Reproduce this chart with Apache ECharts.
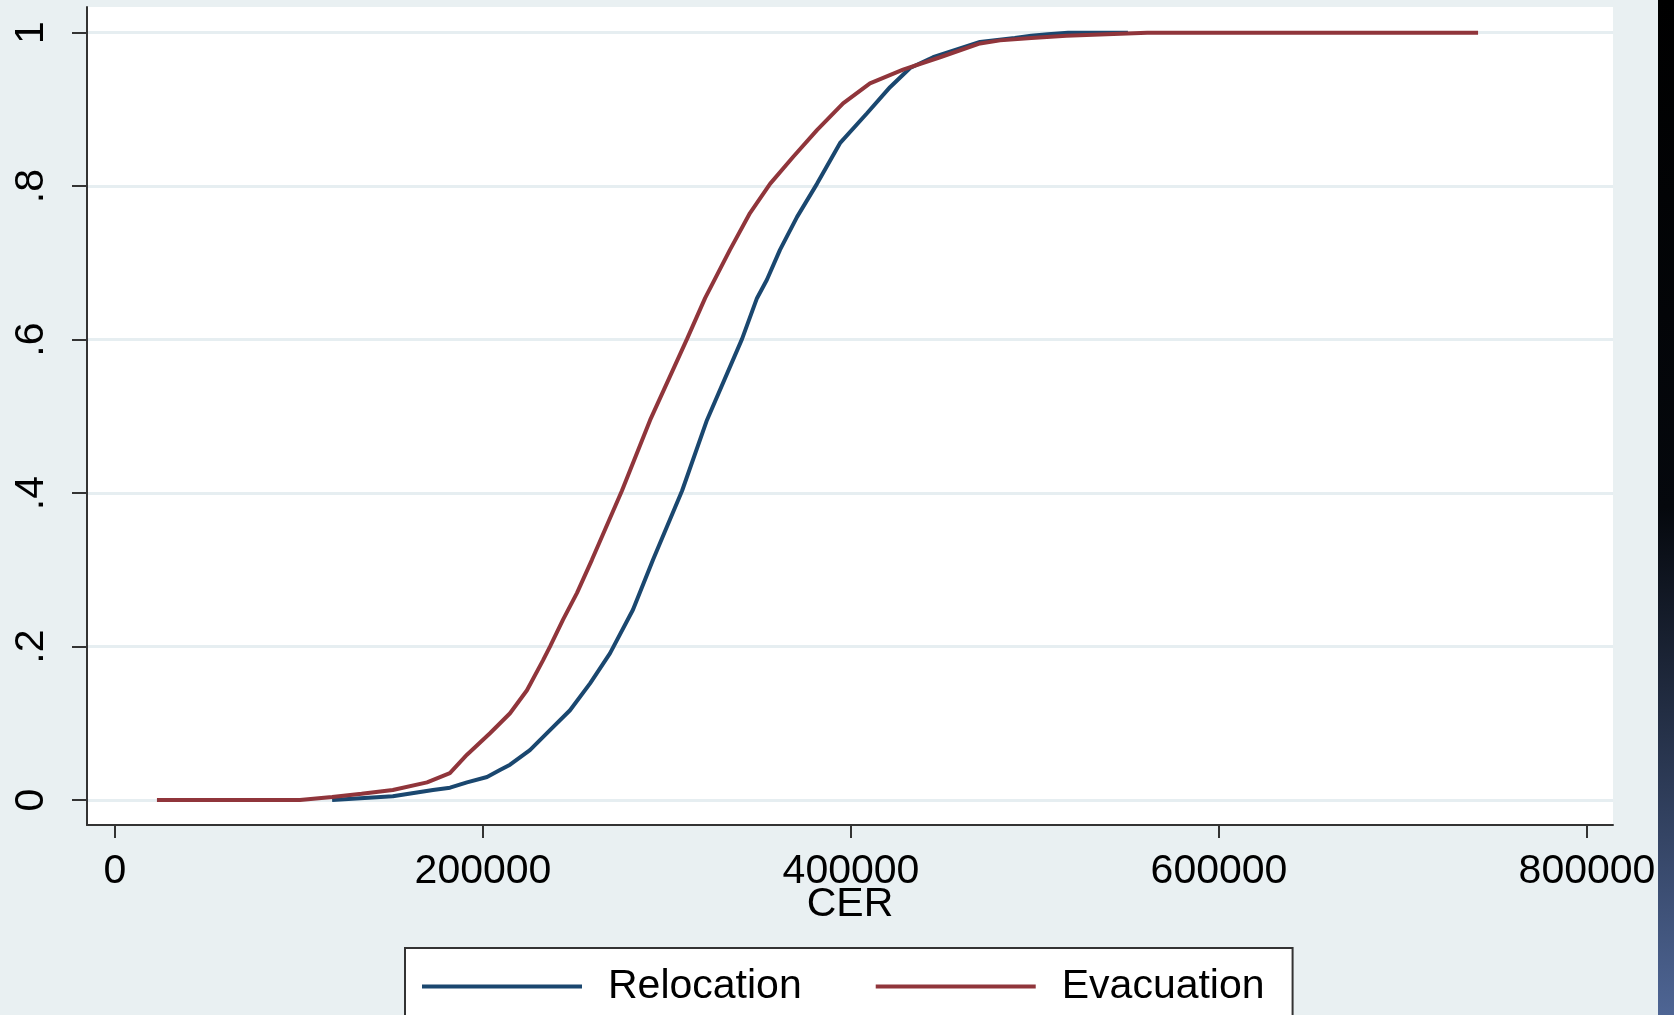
<!DOCTYPE html>
<html>
<head>
<meta charset="utf-8">
<script src="https://cdn.jsdelivr.net/npm/echarts@6/dist/echarts.min.js"></script>
<style>
    body { margin: 0; background: #e9f0f2; }
    #chart { width: 1674px; height: 1015px; }
</style>
</head>
<body>
<div id="chart"></div>
<script>
// cumulative distribution of CER
var relocationCER = [118000, 151000, 172800, 182100, 191300, 202200, 209200, 214700, 225500, 236400,
    247300, 258200, 269000, 281500, 292400, 308200, 321700, 340800, 348900, 354300, 361400, 370700,
    381500, 394000, 408700, 421200, 432100, 444600, 470100, 489000, 498000, 507000, 518000, 550500];
var relocationCum = [0, 0.005, 0.013, 0.016, 0.023, 0.030, 0.039, 0.046, 0.065, 0.091,
    0.117, 0.152, 0.191, 0.248, 0.313, 0.403, 0.495, 0.601, 0.654, 0.678, 0.717, 0.760,
    0.803, 0.856, 0.895, 0.929, 0.954, 0.968, 0.988, 0.993, 0.996, 0.998, 1, 1];

var evacuationCER = [22800, 100500, 118000, 134000, 151000, 169600, 182000, 191300, 203800, 214700,
    223900, 232600, 236400, 243500, 251100, 259200, 275500, 290800, 310900, 320700, 334200, 345100,
    356000, 368500, 381500, 395700, 410300, 428300, 448400, 470100, 481000, 498000, 517000, 561000, 740800];
var evacuationCum = [0, 0, 0.004, 0.008, 0.013, 0.023, 0.035, 0.059, 0.087, 0.113,
    0.143, 0.182, 0.2, 0.235, 0.27, 0.313, 0.403, 0.495, 0.601, 0.654, 0.717, 0.765,
    0.803, 0.838, 0.873, 0.908, 0.934, 0.952, 0.968, 0.986, 0.990, 0.993, 0.996, 1, 1];

var xTicks = [0, 200000, 400000, 600000, 800000];
var yTicks = [0, 0.2, 0.4, 0.6, 0.8, 1];

function pairs(xs, ys) {
    var out = [];
    for (var i = 0; i < xs.length; i++) {
        out.push([xs[i], ys[i]]);
    }
    return out;
}

var chart = echarts.init(document.getElementById('chart'));
var font = 'Liberation Sans, Arial, sans-serif';

chart.setOption({
    backgroundColor: '#e9f0f2',
    animation: false,
    textStyle: {fontFamily: font},
    grid: {left: 87, right: 61, top: 7, bottom: 190, show: true, backgroundColor: '#fff', borderWidth: 0},
    xAxis: {
        type: 'value',
        min: -15217,
        max: 814130,
        name: 'CER',
        nameLocation: 'middle',
        nameGap: 59,
        nameMoveOverlap: false,
        nameTextStyle: {fontSize: 41, color: '#000', fontFamily: font},
        axisLine: {show: true, onZero: false, lineStyle: {color: '#333', width: 2}},
        axisTick: {show: true, length: 13, lineStyle: {color: '#333', width: 2}, customValues: xTicks},
        axisLabel: {
            fontSize: 41, color: '#000', margin: 26, customValues: xTicks, fontFamily: font,
            formatter: function (v) { return String(v); }
        },
        splitLine: {show: false}
    },
    yAxis: {
        type: 'value',
        min: -0.0326,
        max: 1.0335,
        axisLine: {show: true, onZero: false, lineStyle: {color: '#333', width: 2}},
        axisTick: {show: true, length: 15, lineStyle: {color: '#333', width: 2}, customValues: yTicks},
        axisLabel: {
            fontSize: 41, color: '#000', margin: 35, rotate: 90, customValues: yTicks, fontFamily: font,
            formatter: function (v) {
                return v === 0 || v === 1 ? String(v) : String(v).replace(/^0/, '');
            }
        },
        splitLine: {show: true, lineStyle: {color: '#e6eef1', width: 3}}
    },
    legend: {
        left: 405,
        top: 948,
        padding: [18, 28, 40, 17],
        itemGap: 74,
        itemWidth: 160,
        itemHeight: 4,
        icon: 'rect',
        backgroundColor: '#fff',
        borderColor: '#333',
        borderWidth: 2,
        textStyle: {fontSize: 41, color: '#000', lineHeight: 40, padding: [0, 0, 0, 21], fontFamily: font},
        data: ['Relocation', 'Evacuation']
    },
    series: [
        {
            name: 'Relocation',
            type: 'line',
            symbol: 'none',
            color: '#1a476f',
            lineStyle: {width: 4},
            data: pairs(relocationCER, relocationCum)
        },
        {
            name: 'Evacuation',
            type: 'line',
            symbol: 'none',
            color: '#90353b',
            lineStyle: {width: 4},
            data: pairs(evacuationCER, evacuationCum)
        }
    ],
    graphic: [{
        type: 'rect',
        left: 1658,
        top: 0,
        shape: {width: 16, height: 1015},
        style: {
            fill: new echarts.graphic.LinearGradient(0, 0, 0, 1, [
                {offset: 0, color: '#000'},
                {offset: 0.5, color: '#05080d'},
                {offset: 1, color: '#4e6594'}
            ])
        },
        silent: true
    }]
});
</script>
</body>
</html>
